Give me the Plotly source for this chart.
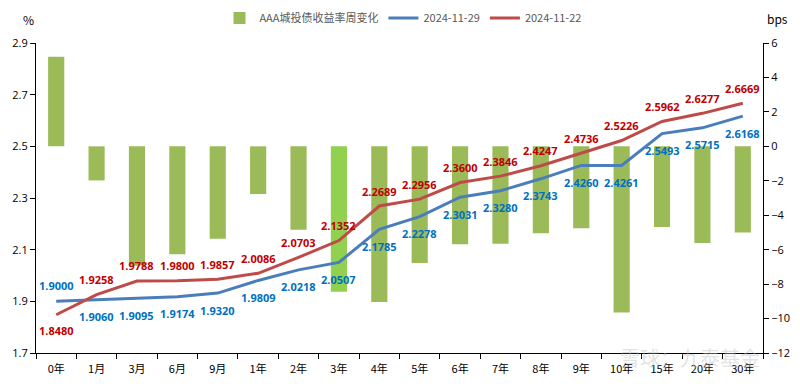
import plotly.graph_objects as go

categories = ["0年", "1月", "3月", "6月", "9月", "1年", "2年", "3年", "4年", "5年",
              "6年", "7年", "8年", "9年", "10年", "15年", "20年", "30年"]
y_1129 = [1.9000, 1.9060, 1.9095, 1.9174, 1.9320, 1.9809, 2.0218, 2.0507, 2.1785, 2.2278,
          2.3031, 2.3280, 2.3743, 2.4260, 2.4261, 2.5493, 2.5715, 2.6168]
y_1122 = [1.8480, 1.9258, 1.9788, 1.9800, 1.9857, 2.0086, 2.0703, 2.1352, 2.2689, 2.2956,
          2.3600, 2.3846, 2.4247, 2.4736, 2.5226, 2.5962, 2.6277, 2.6669]
weekly_change_bps = [5.20, -1.98, -6.93, -6.26, -5.37, -2.77, -4.85, -8.45, -9.04, -6.78,
                     -5.69, -5.66, -5.04, -4.76, -9.65, -4.69, -5.62, -5.01]
left_ticks = [1.7, 1.9, 2.1, 2.3, 2.5, 2.7, 2.9]
right_ticks = [-12, -10, -8, -6, -4, -2, 0, 2, 4, 6]

BAR = "#9BBB59"
BAR_HI = "#92D050"
BLUE = "#4A7EBB"
RED = "#BE4B48"
BLUE_TXT = "#0070C0"
RED_TXT = "#C00000"

# page has an 8px body margin; size the figure so the plot area lands where the reference has it
OFF = 8
W, H = 800 - OFF, 384 - OFF
PL, PR, PT, PB = 36, 763, 43, 353  # plot area in screen pixels
PW, PH = PR - PL, PB - PT

bar_colors = [BAR_HI if c == "3年" else BAR for c in categories]

fig = go.Figure()
fig.add_trace(go.Bar(
    x=categories, y=weekly_change_bps, name="AAA城投债收益率周变化",
    marker=dict(color=bar_colors, line=dict(width=0)), width=0.4, yaxis="y",
))
fig.add_trace(go.Scatter(
    x=categories, y=y_1129, name="2024-11-29", mode="lines",
    line=dict(color=BLUE, width=3), yaxis="y2",
))
fig.add_trace(go.Scatter(
    x=categories, y=y_1122, name="2024-11-22", mode="lines",
    line=dict(color=RED, width=3), yaxis="y2",
))

annotations = []
for i, c in enumerate(categories):
    b_shift = 16 if i == 0 else -17
    r_shift = -16 if i == 0 else 15
    annotations.append(dict(x=c, y=y_1129[i], xref="x", yref="y2",
                            text=f"<b>{y_1129[i]:.4f}</b>",
                            showarrow=False, yshift=b_shift,
                            font=dict(color=BLUE_TXT, size=11, family="Open Sans")))
    annotations.append(dict(x=c, y=y_1122[i], xref="x", yref="y2",
                            text=f"<b>{y_1122[i]:.4f}</b>",
                            showarrow=False, yshift=r_shift,
                            font=dict(color=RED_TXT, size=11, family="Open Sans")))

annotations.append(dict(x=(28 - PL) / PW, y=1 + (PT - 20) / PH, xref="paper", yref="paper",
                        text="%", showarrow=False, font=dict(size=12, color="#000"),
                        xanchor="center", yanchor="middle"))
annotations.append(dict(x=(765 - PL) / PW, y=1 + (PT - 18) / PH, xref="paper", yref="paper",
                        text="bps", showarrow=False, font=dict(size=12, color="#000"),
                        xanchor="left", yanchor="middle"))
annotations.append(dict(x=(690 - PL) / PW, y=-(357 - PB) / PH, xref="paper", yref="paper",
                        text="雪球：九泰基金", showarrow=False, xanchor="center", yanchor="middle",
                        font=dict(size=20, color="rgba(190,190,190,0.45)",
                                  family="Noto Sans CJK SC")))

fig.update_layout(
    width=W, height=H,
    margin=dict(l=PL - OFF, r=800 - PR, t=PT - OFF, b=384 - PB, autoexpand=False),
    paper_bgcolor="white", plot_bgcolor="white",
    font=dict(family="Noto Sans CJK SC", size=11, color="#000"),
    showlegend=True,
    legend=dict(orientation="h", x=(403 - OFF) / W, xref="container", xanchor="center",
                y=1 - (18 - OFF) / H, yref="container",
                yanchor="middle", font=dict(size=11, color="#595959"),
                bgcolor="rgba(0,0,0,0)", traceorder="normal"),
    xaxis=dict(type="category", showline=True, linecolor="#000", linewidth=1,
               ticks="outside", tickson="boundaries", ticklen=5, tickcolor="#000",
               ticklabelstandoff=6,
               showgrid=False, tickfont=dict(size=11, color="#000")),
    yaxis=dict(range=[-12, 6], tickvals=right_ticks, side="right", showline=True,
               linecolor="#000", linewidth=1, ticks="outside", ticklen=5, tickcolor="#000",
               showgrid=False, zeroline=False, automargin=False,
               tickfont=dict(size=11, family="Open Sans")),
    yaxis2=dict(range=[1.7, 2.9], tickvals=left_ticks, tickformat=".1f", side="left",
                overlaying="y", showline=True, linecolor="#000", linewidth=1,
                ticks="outside", ticklen=5, tickcolor="#000", showgrid=False,
                zeroline=False, automargin=False, tickfont=dict(size=11, family="Open Sans")),
    annotations=annotations,
)

fig.write_html("out.html")
